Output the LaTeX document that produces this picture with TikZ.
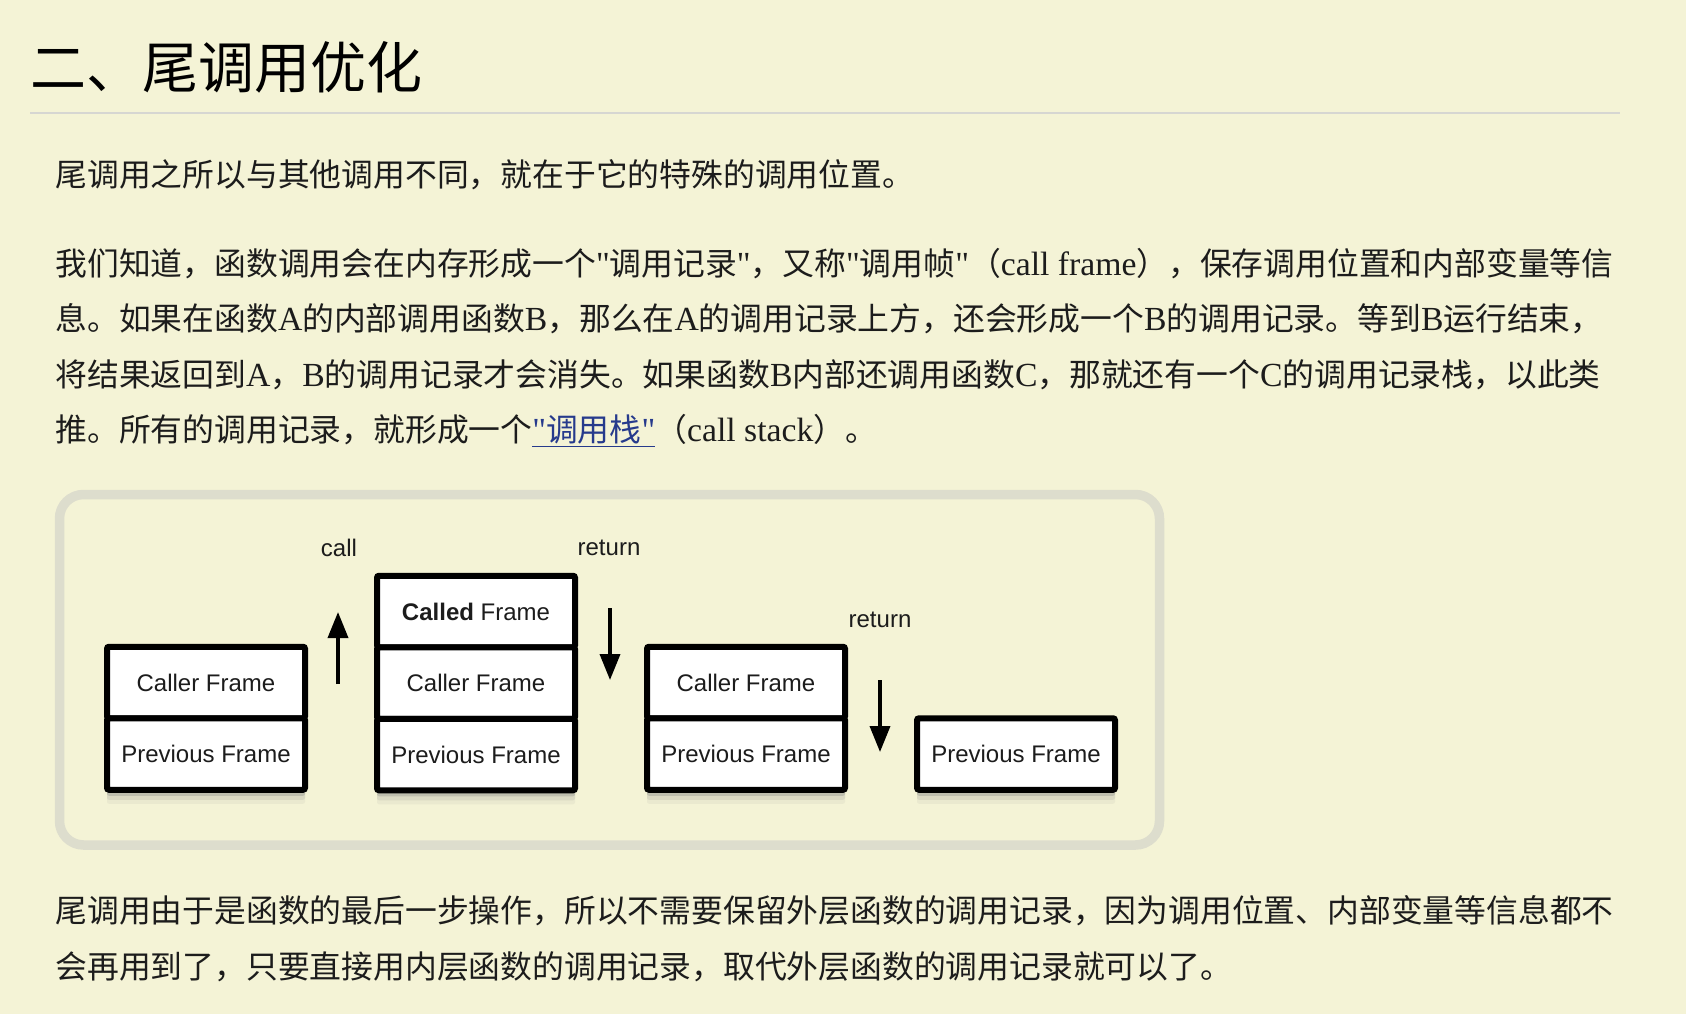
\documentclass[tikz,border=0pt]{standalone}
\usepackage{fontspec}
\setmainfont{Noto Sans CJK SC}
\newfontfamily\latfont[Scale=1.06,Ligatures=TeXOff]{Liberation Serif}
\newfontfamily\boxfont{Liberation Sans}
\usetikzlibrary{arrows.meta,positioning,shadows}
\definecolor{pagebg}{RGB}{244,243,214}
\definecolor{panelrim}{RGB}{221,221,205}
\definecolor{rulegrey}{RGB}{214,214,210}
\definecolor{linkblue}{RGB}{38,58,140}
\definecolor{inktext}{RGB}{28,28,28}
\newcommand{\lat}[1]{{\latfont #1}}

\begin{document}
\begin{tikzpicture}[x=0.5pt, y=-0.5pt,
  body/.style={anchor=base west, inner sep=0pt, text=inktext, font=\fontsize{15.9}{18}\selectfont},
  stackbox/.style={draw=black, line width=3pt, fill=white, rounded corners=1pt, outer sep=0pt,
    minimum width=99pt, minimum height=35.75pt, inner sep=0pt, text=inktext,
    font=\boxfont\fontsize{12}{14}\selectfont,
    drop shadow={shadow xshift=0pt, shadow yshift=-7pt, opacity=0.08},
    drop shadow={shadow xshift=0pt, shadow yshift=-5pt, opacity=0.15},
    drop shadow={shadow xshift=0pt, shadow yshift=-3pt, opacity=0.3}},
  lbl/.style={inner sep=0pt, text=inktext, font=\boxfont\fontsize{12}{14}\selectfont},
  flow/.style={-{Triangle[length=13pt, width=10pt]}, line width=1.8pt, black}]

  % page size and colour (units are pixels of the screenshot)
  \useasboundingbox (0,0) rectangle (1686,1014);
  \fill[pagebg] (0,0) rectangle (1686,1014);

  % heading and rule
  \node[anchor=base west, inner sep=0pt, text=black, font=\fontsize{28}{33}\selectfont] (title) at (30,88) {二、尾调用优化};
  \draw[rulegrey, line width=1pt] (30,113) -- (1620,113);

  % text above the figure
  \node[body] (p1) at (55,186) {尾调用之所以与其他调用不同，就在于它的特殊的调用位置。};
  \node[body] (p2a) at (55,275) {我们知道，函数调用会在内存形成一个\lat{"}调用记录\lat{"}，又称\lat{"}调用帧\lat{"}（\lat{call frame}），保存调用位置和内部变量等信};
  \node[body] (p2b) at (55,330) {息。如果在函数\lat{A}的内部调用函数\lat{B}，那么在\lat{A}的调用记录上方，还会形成一个\lat{B}的调用记录。等到\lat{B}运行结束，};
  \node[body] (p2c) at (55,386) {将结果返回到\lat{A}，\lat{B}的调用记录才会消失。如果函数\lat{B}内部还调用函数\lat{C}，那就还有一个\lat{C}的调用记录栈，以此类};
  \node[body] (p2d) at (55,441) {推。所有的调用记录，就形成一个\textcolor{linkblue}{\underline{\lat{"}调用栈\lat{"}}}（\lat{call stack}）。};

  % figure panel
  \draw[panelrim, line width=4.75pt, rounded corners=12pt, fill=pagebg] (59.5,494.5) rectangle (1159.5,845);

  \def\colx{206}
  \def\colgap{270}
  \def\rowa{611.5}
  \def\rowb{682.5}
  \def\rowc{754}

  % Stack 1: caller on top of previous
  \pgfmathsetmacro{\xx}{\colx+0*\colgap}
  \node[stackbox] (s1caller) at (\xx,\rowb) {Caller Frame};
  \node[stackbox, below=0pt of s1caller] (s1prev) {Previous Frame};

  % Stack 2: called frame pushed
  \pgfmathsetmacro{\xx}{\colx+1*\colgap}
  \node[stackbox] (s2called) at (\xx,\rowa) {\textbf{Called} Frame};
  \node[stackbox, below=0pt of s2called] (s2caller) {Caller Frame};
  \node[stackbox, below=0pt of s2caller] (s2prev) {Previous Frame};

  % Stack 3: back to caller
  \pgfmathsetmacro{\xx}{\colx+2*\colgap}
  \node[stackbox] (s3caller) at (\xx,\rowb) {Caller Frame};
  \node[stackbox, below=0pt of s3caller] (s3prev) {Previous Frame};

  % Stack 4: only previous left
  \pgfmathsetmacro{\xx}{\colx+3*\colgap}
  \node[stackbox] (s4prev) at (\xx,\rowc) {Previous Frame};

  % arrows and their words
  \coordinate (callfrom) at (338,684);
  \coordinate (callto) at (338,612);
  \coordinate (retafrom) at (610,608);
  \coordinate (retato) at (610,680);
  \coordinate (retbfrom) at (880,680);
  \coordinate (retbto) at (880,752);
  \draw[flow] (callfrom) -- (callto);
  \draw[flow] (retafrom) -- (retato);
  \draw[flow] (retbfrom) -- (retbto);
  \node[lbl] (calllbl) at (339,548) {call};
  \node[lbl] (retalbl) at (609,548) {return};
  \node[lbl] (retblbl) at (880,620) {return};

  % text below the figure
  \node[body] (p3a) at (55,922) {尾调用由于是函数的最后一步操作，所以不需要保留外层函数的调用记录，因为调用位置、内部变量等信息都不};
  \node[body] (p3b) at (55,978) {会再用到了，只要直接用内层函数的调用记录，取代外层函数的调用记录就可以了。};

\end{tikzpicture}
\end{document}
